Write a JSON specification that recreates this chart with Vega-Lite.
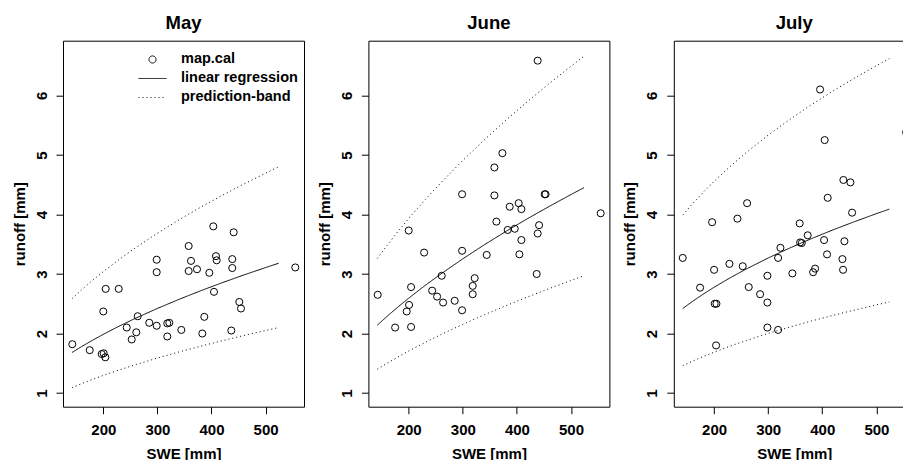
{
  "$schema": "https://vega.github.io/schema/vega-lite/v6.json",
  "autosize": {"type": "none"},
  "padding": {"left": 63, "top": 40.7, "right": 840, "bottom": 419.3},
  "background": "white",
  "datasets": {
    "pts": [
      {"m":"May","swe":142.7,"runoff":1.82},{"m":"May","swe":174.9,"runoff":1.72},{"m":"May","swe":197,"runoff":1.655},{"m":"May","swe":200.7,"runoff":1.667},{"m":"May","swe":203.7,"runoff":1.6},{"m":"May","swe":200,"runoff":2.37},{"m":"May","swe":204.4,"runoff":2.75},{"m":"May","swe":228.5,"runoff":2.75},{"m":"May","swe":243.3,"runoff":2.1},{"m":"May","swe":252.5,"runoff":1.9},{"m":"May","swe":261,"runoff":2.02},{"m":"May","swe":263.6,"runoff":2.29},{"m":"May","swe":285,"runoff":2.18},{"m":"May","swe":298.7,"runoff":2.13},{"m":"May","swe":298.7,"runoff":3.03},{"m":"May","swe":298.7,"runoff":3.24},{"m":"May","swe":318.3,"runoff":2.17},{"m":"May","swe":322,"runoff":2.18},{"m":"May","swe":318.3,"runoff":1.95},{"m":"May","swe":344.2,"runoff":2.06},{"m":"May","swe":357.8,"runoff":3.47},{"m":"May","swe":357.8,"runoff":3.05},{"m":"May","swe":362.1,"runoff":3.22},{"m":"May","swe":373.2,"runoff":3.08},{"m":"May","swe":383,"runoff":2.0},{"m":"May","swe":386.7,"runoff":2.28},{"m":"May","swe":396,"runoff":3.02},{"m":"May","swe":403.3,"runoff":3.8},{"m":"May","swe":404.6,"runoff":2.7},{"m":"May","swe":408.3,"runoff":3.3},{"m":"May","swe":409.6,"runoff":3.23},{"m":"May","swe":436.6,"runoff":2.05},{"m":"May","swe":438.4,"runoff":3.25},{"m":"May","swe":438.4,"runoff":3.1},{"m":"May","swe":441,"runoff":3.7},{"m":"May","swe":451.4,"runoff":2.53},{"m":"May","swe":454.5,"runoff":2.42},{"m":"May","swe":554.9,"runoff":3.11},
      {"m":"June","swe":142.7,"runoff":2.65},{"m":"June","swe":174.9,"runoff":2.1},{"m":"June","swe":196.3,"runoff":2.37},{"m":"June","swe":200.7,"runoff":2.48},{"m":"June","swe":204.4,"runoff":2.11},{"m":"June","swe":204.4,"runoff":2.78},{"m":"June","swe":200,"runoff":3.73},{"m":"June","swe":228.5,"runoff":3.36},{"m":"June","swe":243.3,"runoff":2.72},{"m":"June","swe":252.5,"runoff":2.62},{"m":"June","swe":263.6,"runoff":2.52},{"m":"June","swe":261,"runoff":2.97},{"m":"June","swe":285,"runoff":2.55},{"m":"June","swe":298.7,"runoff":2.39},{"m":"June","swe":298.7,"runoff":3.39},{"m":"June","swe":318.3,"runoff":2.66},{"m":"June","swe":318.3,"runoff":2.8},{"m":"June","swe":322,"runoff":2.93},{"m":"June","swe":344.2,"runoff":3.32},{"m":"June","swe":362.1,"runoff":3.88},{"m":"June","swe":383,"runoff":3.74},{"m":"June","swe":396,"runoff":3.76},{"m":"June","swe":386.7,"runoff":4.13},{"m":"June","swe":403.3,"runoff":4.19},{"m":"June","swe":408.3,"runoff":4.09},{"m":"June","swe":408.3,"runoff":3.57},{"m":"June","swe":404.6,"runoff":3.33},{"m":"June","swe":436.6,"runoff":3.0},{"m":"June","swe":438.4,"runoff":3.68},{"m":"June","swe":441,"runoff":3.82},{"m":"June","swe":451.4,"runoff":4.34},{"m":"June","swe":453,"runoff":4.34},{"m":"June","swe":554.9,"runoff":4.02},{"m":"June","swe":438.4,"runoff":6.585},{"m":"June","swe":373.2,"runoff":5.03},{"m":"June","swe":358.4,"runoff":4.79},{"m":"June","swe":298.7,"runoff":4.34},{"m":"June","swe":358.4,"runoff":4.32},
      {"m":"July","swe":142,"runoff":3.27},{"m":"July","swe":174.1,"runoff":2.77},{"m":"July","swe":200,"runoff":3.07},{"m":"July","swe":201.1,"runoff":2.5},{"m":"July","swe":204.3,"runoff":2.5},{"m":"July","swe":203.7,"runoff":1.8},{"m":"July","swe":196.3,"runoff":3.87},{"m":"July","swe":228.3,"runoff":3.17},{"m":"July","swe":243.1,"runoff":3.93},{"m":"July","swe":252.9,"runoff":3.13},{"m":"July","swe":261,"runoff":4.19},{"m":"July","swe":264,"runoff":2.78},{"m":"July","swe":285,"runoff":2.66},{"m":"July","swe":298.5,"runoff":2.97},{"m":"July","swe":298.5,"runoff":2.52},{"m":"July","swe":298.5,"runoff":2.1},{"m":"July","swe":318.3,"runoff":3.27},{"m":"July","swe":322.6,"runoff":3.44},{"m":"July","swe":318.3,"runoff":2.06},{"m":"July","swe":344.7,"runoff":3.01},{"m":"July","swe":358.2,"runoff":3.85},{"m":"July","swe":359,"runoff":3.53},{"m":"July","swe":362,"runoff":3.52},{"m":"July","swe":373,"runoff":3.65},{"m":"July","swe":383,"runoff":3.03},{"m":"July","swe":386.7,"runoff":3.09},{"m":"July","swe":403.3,"runoff":3.57},{"m":"July","swe":408.8,"runoff":3.33},{"m":"July","swe":437.2,"runoff":3.25},{"m":"July","swe":438.4,"runoff":3.07},{"m":"July","swe":440.9,"runoff":3.55},{"m":"July","swe":455.1,"runoff":4.03},{"m":"July","swe":395.9,"runoff":6.1},{"m":"July","swe":404.4,"runoff":5.25},{"m":"July","swe":439,"runoff":4.58},{"m":"July","swe":452,"runoff":4.54},{"m":"July","swe":410,"runoff":4.28},{"m":"July","swe":554.9,"runoff":5.38}
    ],
    "curves": [
      {"m":"May","s":"linear regression","p":"fit","swe":142,"runoff":1.68},{"m":"May","s":"linear regression","p":"fit","swe":160,"runoff":1.781},{"m":"May","s":"linear regression","p":"fit","swe":180,"runoff":1.886},{"m":"May","s":"linear regression","p":"fit","swe":200,"runoff":1.986},{"m":"May","s":"linear regression","p":"fit","swe":230,"runoff":2.127},{"m":"May","s":"linear regression","p":"fit","swe":260,"runoff":2.258},{"m":"May","s":"linear regression","p":"fit","swe":300,"runoff":2.421},{"m":"May","s":"linear regression","p":"fit","swe":340,"runoff":2.574},{"m":"May","s":"linear regression","p":"fit","swe":380,"runoff":2.718},{"m":"May","s":"linear regression","p":"fit","swe":420,"runoff":2.854},{"m":"May","s":"linear regression","p":"fit","swe":460,"runoff":2.984},{"m":"May","s":"linear regression","p":"fit","swe":500,"runoff":3.108},{"m":"May","s":"linear regression","p":"fit","swe":524,"runoff":3.18},
      {"m":"May","s":"prediction-band","p":"upper","swe":142,"runoff":2.585},{"m":"May","s":"prediction-band","p":"upper","swe":160,"runoff":2.735},{"m":"May","s":"prediction-band","p":"upper","swe":180,"runoff":2.893},{"m":"May","s":"prediction-band","p":"upper","swe":200,"runoff":3.041},{"m":"May","s":"prediction-band","p":"upper","swe":230,"runoff":3.249},{"m":"May","s":"prediction-band","p":"upper","swe":260,"runoff":3.443},{"m":"May","s":"prediction-band","p":"upper","swe":300,"runoff":3.685},{"m":"May","s":"prediction-band","p":"upper","swe":340,"runoff":3.91},{"m":"May","s":"prediction-band","p":"upper","swe":380,"runoff":4.122},{"m":"May","s":"prediction-band","p":"upper","swe":420,"runoff":4.322},{"m":"May","s":"prediction-band","p":"upper","swe":460,"runoff":4.512},{"m":"May","s":"prediction-band","p":"upper","swe":500,"runoff":4.694},{"m":"May","s":"prediction-band","p":"upper","swe":524,"runoff":4.8},
      {"m":"May","s":"prediction-band","p":"lower","swe":142,"runoff":1.09},{"m":"May","s":"prediction-band","p":"lower","swe":160,"runoff":1.157},{"m":"May","s":"prediction-band","p":"lower","swe":180,"runoff":1.228},{"m":"May","s":"prediction-band","p":"lower","swe":200,"runoff":1.295},{"m":"May","s":"prediction-band","p":"lower","swe":230,"runoff":1.389},{"m":"May","s":"prediction-band","p":"lower","swe":260,"runoff":1.477},{"m":"May","s":"prediction-band","p":"lower","swe":300,"runoff":1.587},{"m":"May","s":"prediction-band","p":"lower","swe":340,"runoff":1.69},{"m":"May","s":"prediction-band","p":"lower","swe":380,"runoff":1.787},{"m":"May","s":"prediction-band","p":"lower","swe":420,"runoff":1.879},{"m":"May","s":"prediction-band","p":"lower","swe":460,"runoff":1.967},{"m":"May","s":"prediction-band","p":"lower","swe":500,"runoff":2.051},{"m":"May","s":"prediction-band","p":"lower","swe":524,"runoff":2.1},
      {"m":"June","s":"linear regression","p":"fit","swe":142,"runoff":2.14},{"m":"June","s":"linear regression","p":"fit","swe":160,"runoff":2.288},{"m":"June","s":"linear regression","p":"fit","swe":180,"runoff":2.445},{"m":"June","s":"linear regression","p":"fit","swe":200,"runoff":2.593},{"m":"June","s":"linear regression","p":"fit","swe":230,"runoff":2.805},{"m":"June","s":"linear regression","p":"fit","swe":260,"runoff":3.004},{"m":"June","s":"linear regression","p":"fit","swe":300,"runoff":3.255},{"m":"June","s":"linear regression","p":"fit","swe":340,"runoff":3.492},{"m":"June","s":"linear regression","p":"fit","swe":380,"runoff":3.717},{"m":"June","s":"linear regression","p":"fit","swe":420,"runoff":3.932},{"m":"June","s":"linear regression","p":"fit","swe":460,"runoff":4.137},{"m":"June","s":"linear regression","p":"fit","swe":500,"runoff":4.335},{"m":"June","s":"linear regression","p":"fit","swe":524,"runoff":4.45},
      {"m":"June","s":"prediction-band","p":"upper","swe":142,"runoff":3.26},{"m":"June","s":"prediction-band","p":"upper","swe":160,"runoff":3.48},{"m":"June","s":"prediction-band","p":"upper","swe":180,"runoff":3.712},{"m":"June","s":"prediction-band","p":"upper","swe":200,"runoff":3.932},{"m":"June","s":"prediction-band","p":"upper","swe":230,"runoff":4.245},{"m":"June","s":"prediction-band","p":"upper","swe":260,"runoff":4.539},{"m":"June","s":"prediction-band","p":"upper","swe":300,"runoff":4.908},{"m":"June","s":"prediction-band","p":"upper","swe":340,"runoff":5.256},{"m":"June","s":"prediction-band","p":"upper","swe":380,"runoff":5.586},{"m":"June","s":"prediction-band","p":"upper","swe":420,"runoff":5.901},{"m":"June","s":"prediction-band","p":"upper","swe":460,"runoff":6.202},{"m":"June","s":"prediction-band","p":"upper","swe":500,"runoff":6.491},{"m":"June","s":"prediction-band","p":"upper","swe":524,"runoff":6.66},
      {"m":"June","s":"prediction-band","p":"lower","swe":142,"runoff":1.4},{"m":"June","s":"prediction-band","p":"lower","swe":160,"runoff":1.5},{"m":"June","s":"prediction-band","p":"lower","swe":180,"runoff":1.605},{"m":"June","s":"prediction-band","p":"lower","swe":200,"runoff":1.705},{"m":"June","s":"prediction-band","p":"lower","swe":230,"runoff":1.848},{"m":"June","s":"prediction-band","p":"lower","swe":260,"runoff":1.984},{"m":"June","s":"prediction-band","p":"lower","swe":300,"runoff":2.154},{"m":"June","s":"prediction-band","p":"lower","swe":340,"runoff":2.315},{"m":"June","s":"prediction-band","p":"lower","swe":380,"runoff":2.468},{"m":"June","s":"prediction-band","p":"lower","swe":420,"runoff":2.615},{"m":"June","s":"prediction-band","p":"lower","swe":460,"runoff":2.755},{"m":"June","s":"prediction-band","p":"lower","swe":500,"runoff":2.891},{"m":"June","s":"prediction-band","p":"lower","swe":524,"runoff":2.97},
      {"m":"July","s":"linear regression","p":"fit","swe":142,"runoff":2.42},{"m":"July","s":"linear regression","p":"fit","swe":160,"runoff":2.539},{"m":"July","s":"linear regression","p":"fit","swe":180,"runoff":2.662},{"m":"July","s":"linear regression","p":"fit","swe":200,"runoff":2.777},{"m":"July","s":"linear regression","p":"fit","swe":230,"runoff":2.938},{"m":"July","s":"linear regression","p":"fit","swe":260,"runoff":3.086},{"m":"July","s":"linear regression","p":"fit","swe":300,"runoff":3.269},{"m":"July","s":"linear regression","p":"fit","swe":340,"runoff":3.437},{"m":"July","s":"linear regression","p":"fit","swe":380,"runoff":3.594},{"m":"July","s":"linear regression","p":"fit","swe":420,"runoff":3.742},{"m":"July","s":"linear regression","p":"fit","swe":460,"runoff":3.881},{"m":"July","s":"linear regression","p":"fit","swe":500,"runoff":4.014},{"m":"July","s":"linear regression","p":"fit","swe":524,"runoff":4.09},
      {"m":"July","s":"prediction-band","p":"upper","swe":142,"runoff":3.99},{"m":"July","s":"prediction-band","p":"upper","swe":160,"runoff":4.179},{"m":"July","s":"prediction-band","p":"upper","swe":180,"runoff":4.375},{"m":"July","s":"prediction-band","p":"upper","swe":200,"runoff":4.557},{"m":"July","s":"prediction-band","p":"upper","swe":230,"runoff":4.81},{"m":"July","s":"prediction-band","p":"upper","swe":260,"runoff":5.045},{"m":"July","s":"prediction-band","p":"upper","swe":300,"runoff":5.333},{"m":"July","s":"prediction-band","p":"upper","swe":340,"runoff":5.598},{"m":"July","s":"prediction-band","p":"upper","swe":380,"runoff":5.845},{"m":"July","s":"prediction-band","p":"upper","swe":420,"runoff":6.076},{"m":"July","s":"prediction-band","p":"upper","swe":460,"runoff":6.294},{"m":"July","s":"prediction-band","p":"upper","swe":500,"runoff":6.501},{"m":"July","s":"prediction-band","p":"upper","swe":524,"runoff":6.62},
      {"m":"July","s":"prediction-band","p":"lower","swe":142,"runoff":1.46},{"m":"July","s":"prediction-band","p":"lower","swe":160,"runoff":1.535},{"m":"July","s":"prediction-band","p":"lower","swe":180,"runoff":1.613},{"m":"July","s":"prediction-band","p":"lower","swe":200,"runoff":1.686},{"m":"July","s":"prediction-band","p":"lower","swe":230,"runoff":1.789},{"m":"July","s":"prediction-band","p":"lower","swe":260,"runoff":1.884},{"m":"July","s":"prediction-band","p":"lower","swe":300,"runoff":2.001},{"m":"July","s":"prediction-band","p":"lower","swe":340,"runoff":2.109},{"m":"July","s":"prediction-band","p":"lower","swe":380,"runoff":2.21},{"m":"July","s":"prediction-band","p":"lower","swe":420,"runoff":2.305},{"m":"July","s":"prediction-band","p":"lower","swe":460,"runoff":2.395},{"m":"July","s":"prediction-band","p":"lower","swe":500,"runoff":2.481},{"m":"July","s":"prediction-band","p":"lower","swe":524,"runoff":2.53}
    ]
  },
  "spacing": 64.4,
  "bounds": "flush",
  "resolve": {"scale": {"strokeDash": "independent"}, "legend": {"strokeDash": "independent"}},
  "hconcat": [
    {
      "width": 241, "height": 366,
      "title": {"text": "May"},
      "layer": [
        {
          "data": {"name": "pts"},
          "transform": [{"filter": "datum.m === 'May'"}],
          "mark": {"type": "point", "shape": "circle", "filled": false, "stroke": "black", "strokeWidth": 1, "size": 50, "opacity": 1},
          "encoding": {
            "x": {"field": "swe", "type": "quantitative", "scale": {"domain": [125.5, 571], "nice": false, "zero": false}, "axis": {"values": [200, 300, 400, 500], "title": "SWE [mm]"}},
            "y": {"field": "runoff", "type": "quantitative", "scale": {"domain": [0.77, 6.92], "nice": false, "zero": false}, "axis": {"values": [1, 2, 3, 4, 5, 6], "title": "runoff [mm]"}}
          }
        },
        {
          "data": {"name": "curves"},
          "transform": [{"filter": "datum.m === 'May'"}],
          "mark": {"type": "line", "stroke": "black", "strokeWidth": 1},
          "encoding": {
            "x": {"field": "swe", "type": "quantitative", "scale": {"domain": [125.5, 571], "nice": false, "zero": false}, "axis": {"values": [200, 300, 400, 500], "title": "SWE [mm]"}},
            "y": {"field": "runoff", "type": "quantitative", "scale": {"domain": [0.77, 6.92], "nice": false, "zero": false}, "axis": {"values": [1, 2, 3, 4, 5, 6], "title": "runoff [mm]"}},
            "detail": {"field": "p", "type": "nominal"},
            "strokeDash": {
              "field": "s", "type": "nominal",
              "scale": {"domain": ["map.cal", "linear regression", "prediction-band"], "range": [[1, 0], [1, 0], [1, 3]]},
              "legend": {
                "title": null, "orient": "none", "legendX": 75, "legendY": 9.6,
                "padding": 0, "rowPadding": 0, "clipHeight": 18.35,
                "symbolType": "stroke", "symbolSize": 784, "symbolStrokeColor": "black", "symbolStrokeWidth": 1,
                "labelFont": "Liberation Sans", "labelFontSize": 14.5, "labelFontWeight": "bold", "labelColor": "black", "labelOffset": 14, "labelBaseline": "middle",
                "encode": {"symbols": {"update": {
                  "shape": {"signal": "datum.value === 'map.cal' ? 'circle' : 'stroke'"},
                  "size": {"signal": "datum.value === 'map.cal' ? 50 : 784"},
                  "fill": {"value": "transparent"},
                  "stroke": {"value": "black"}
                }}}
              }
            }
          }
        }
      ]
    },
    {
      "width": 241, "height": 366,
      "title": {"text": "June"},
      "layer": [
        {
          "data": {"name": "pts"},
          "transform": [{"filter": "datum.m === 'June'"}],
          "mark": {"type": "point", "shape": "circle", "filled": false, "stroke": "black", "strokeWidth": 1, "size": 50, "opacity": 1},
          "encoding": {
            "x": {"field": "swe", "type": "quantitative", "scale": {"domain": [125.5, 571], "nice": false, "zero": false}, "axis": {"values": [200, 300, 400, 500], "title": "SWE [mm]"}},
            "y": {"field": "runoff", "type": "quantitative", "scale": {"domain": [0.77, 6.92], "nice": false, "zero": false}, "axis": {"values": [1, 2, 3, 4, 5, 6], "title": "runoff [mm]"}}
          }
        },
        {
          "data": {"name": "curves"},
          "transform": [{"filter": "datum.m === 'June'"}],
          "mark": {"type": "line", "stroke": "black", "strokeWidth": 1},
          "encoding": {
            "x": {"field": "swe", "type": "quantitative", "scale": {"domain": [125.5, 571], "nice": false, "zero": false}, "axis": {"values": [200, 300, 400, 500], "title": "SWE [mm]"}},
            "y": {"field": "runoff", "type": "quantitative", "scale": {"domain": [0.77, 6.92], "nice": false, "zero": false}, "axis": {"values": [1, 2, 3, 4, 5, 6], "title": "runoff [mm]"}},
            "detail": {"field": "p", "type": "nominal"},
            "strokeDash": {"field": "s", "type": "nominal", "scale": {"domain": ["map.cal", "linear regression", "prediction-band"], "range": [[1, 0], [1, 0], [1, 3]]}, "legend": null}
          }
        }
      ]
    },
    {
      "width": 241, "height": 366,
      "title": {"text": "July"},
      "layer": [
        {
          "data": {"name": "pts"},
          "transform": [{"filter": "datum.m === 'July'"}],
          "mark": {"type": "point", "shape": "circle", "filled": false, "stroke": "black", "strokeWidth": 1, "size": 50, "opacity": 1},
          "encoding": {
            "x": {"field": "swe", "type": "quantitative", "scale": {"domain": [125.5, 571], "nice": false, "zero": false}, "axis": {"values": [200, 300, 400, 500], "title": "SWE [mm]"}},
            "y": {"field": "runoff", "type": "quantitative", "scale": {"domain": [0.77, 6.92], "nice": false, "zero": false}, "axis": {"values": [1, 2, 3, 4, 5, 6], "title": "runoff [mm]"}}
          }
        },
        {
          "data": {"name": "curves"},
          "transform": [{"filter": "datum.m === 'July'"}],
          "mark": {"type": "line", "stroke": "black", "strokeWidth": 1},
          "encoding": {
            "x": {"field": "swe", "type": "quantitative", "scale": {"domain": [125.5, 571], "nice": false, "zero": false}, "axis": {"values": [200, 300, 400, 500], "title": "SWE [mm]"}},
            "y": {"field": "runoff", "type": "quantitative", "scale": {"domain": [0.77, 6.92], "nice": false, "zero": false}, "axis": {"values": [1, 2, 3, 4, 5, 6], "title": "runoff [mm]"}},
            "detail": {"field": "p", "type": "nominal"},
            "strokeDash": {"field": "s", "type": "nominal", "scale": {"domain": ["map.cal", "linear regression", "prediction-band"], "range": [[1, 0], [1, 0], [1, 3]]}, "legend": null}
          }
        }
      ]
    }
  ],
  "config": {
    "font": "Liberation Sans",
    "view": {"stroke": "black", "strokeWidth": 1},
    "title": {"font": "Liberation Sans", "fontSize": 18.5, "fontWeight": "bold", "color": "black", "baseline": "alphabetic", "offset": 8.5, "anchor": "middle", "frame": "group"},
    "axis": {"domain": false, "grid": false, "tickColor": "black", "tickSize": 7, "tickWidth": 1, "labelFont": "Liberation Sans", "labelFontWeight": "bold", "labelFontSize": 15, "labelColor": "black", "labelFlush": false, "labelOverlap": false, "titleFont": "Liberation Sans", "titleFontWeight": "bold", "titleFontSize": 15, "titleColor": "black"},
    "axisX": {"labelBaseline": "top", "labelPadding": 9, "titleY": 51.3, "titleBaseline": "alphabetic"},
    "axisY": {"labelAngle": 270, "labelAlign": "center", "labelBaseline": "alphabetic", "labelPadding": 10, "titleX": -39, "titleY": 183, "titleAngle": 270, "titleAlign": "center", "titleBaseline": "alphabetic"}
  }
}
